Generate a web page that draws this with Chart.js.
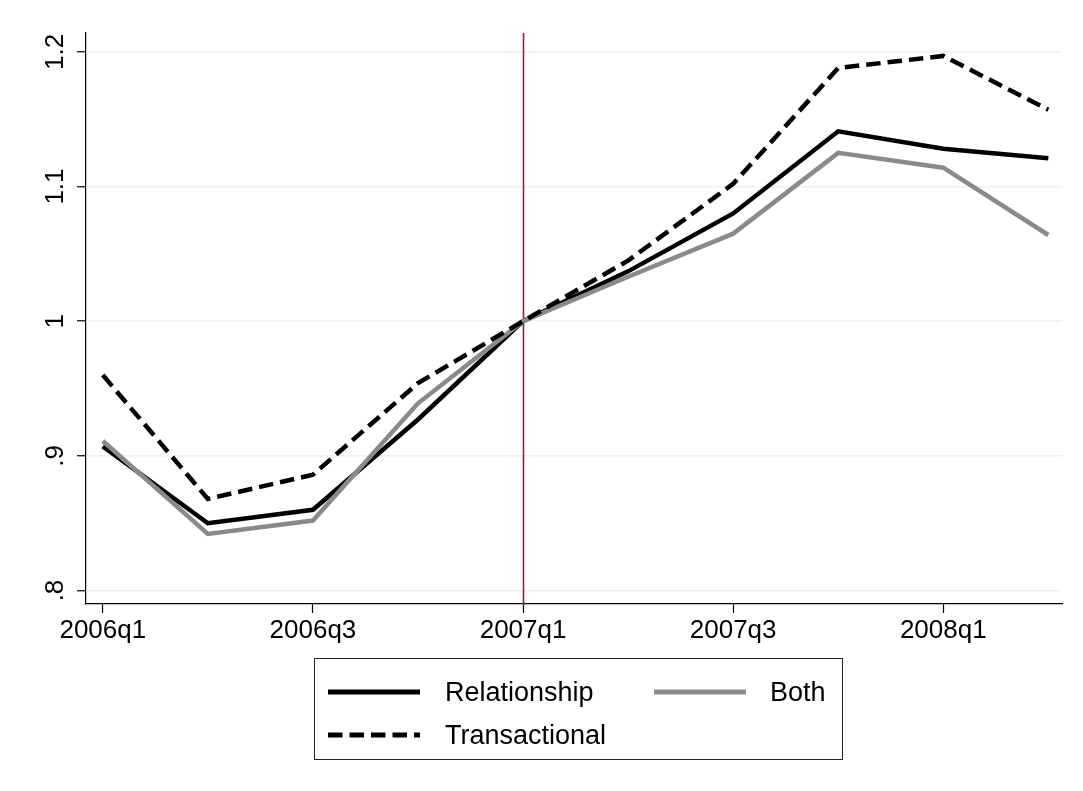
<!DOCTYPE html>
<html>
<head>
<meta charset="utf-8">
<script src="https://cdn.jsdelivr.net/npm/chart.js@4/dist/chart.umd.min.js"></script>
<style>
  html, body { margin: 0; padding: 0; background: #fff; }
  #wrap { position: relative; width: 1083px; height: 791px; }
  #chart { position: absolute; left: 0; top: 0; }
  #legend {
    position: absolute; left: 314px; top: 658px; width: 527px; height: 100px;
    border: 1px solid #222; box-sizing: content-box;
    font-family: "Liberation Sans", Arial, sans-serif; font-size: 27px; color: #000;
  }
  .item { position: absolute; height: 30px; line-height: 30px; white-space: nowrap; }
  .item svg { position: absolute; left: 0; top: 0; }
  .item span { position: absolute; top: 0; }
</style>
</head>
<body>
<div id="wrap">
  <canvas id="chart" width="1083" height="791"></canvas>
  <div id="legend"></div>
</div>
<script>
// Quarterly index, 2007q1 = 1
const quarters = ['2006q1', '2006q2', '2006q3', '2006q4', '2007q1',
                  '2007q2', '2007q3', '2007q4', '2008q1', '2008q2'];
const relationship  = [0.907, 0.850, 0.860, 0.927, 1.000, 1.037, 1.080, 1.141, 1.128, 1.121];
const both          = [0.911, 0.842, 0.852, 0.939, 1.000, 1.033, 1.065, 1.125, 1.114, 1.064];
const transactional = [0.960, 0.868, 0.886, 0.954, 1.000, 1.045, 1.102, 1.188, 1.197, 1.157];

const xTickQuarters = ['2006q1', '2006q3', '2007q1', '2007q3', '2008q1'];
const yTickValues = [0.8, 0.9, 1.0, 1.1, 1.2];
const yTickLabels = ['.8', '.9', '1', '1.1', '1.2'];
const referenceQuarter = '2007q1';

const FONT = '"Liberation Sans", Arial, sans-serif';

const toPoints = arr => arr.map((v, i) => ({ x: i, y: v }));

const series = [
  { label: 'Relationship',  data: relationship,  color: '#000000', dash: [],        order: 2 },
  { label: 'Both',          data: both,          color: '#8a8a8a', dash: [],        order: 1 },
  { label: 'Transactional', data: transactional, color: '#000000', dash: [14.5, 7], order: 0 }
];

// vertical reference line at the base quarter, drawn under the series
const refLine = {
  id: 'refLine',
  beforeDatasetsDraw(chart) {
    const { ctx, chartArea, scales } = chart;
    const x = Math.round(scales.x.getPixelForValue(quarters.indexOf(referenceQuarter))) + 0.5;
    ctx.save();
    ctx.strokeStyle = '#a8123f';
    ctx.lineWidth = 1.6;
    ctx.beginPath();
    ctx.moveTo(x, chartArea.top);
    ctx.lineTo(x, chartArea.bottom);
    ctx.stroke();
    ctx.restore();
  }
};

new Chart(document.getElementById('chart'), {
  type: 'line',
  data: {
    datasets: series.map(s => ({
      label: s.label,
      data: toPoints(s.data),
      borderColor: s.color,
      backgroundColor: s.color,
      borderWidth: 4.5,
      borderDash: s.dash,
      borderCapStyle: 'butt',
      borderJoinStyle: 'miter',
      pointRadius: 0,
      tension: 0,
      order: s.order
    }))
  },
  options: {
    responsive: false,
    animation: false,
    events: [],
    layout: { padding: { left: 0, right: 21, top: 33, bottom: 0 } },
    plugins: { legend: { display: false }, tooltip: { enabled: false } },
    scales: {
      x: {
        type: 'linear',
        min: -0.16,
        max: 9.13,
        afterBuildTicks: axis => {
          axis.ticks = xTickQuarters.map(q => ({ value: quarters.indexOf(q) }));
        },
        afterFit: axis => { axis.height = 187; },
        ticks: {
          callback: v => quarters[v],
          font: { family: FONT, size: 26 },
          color: '#000',
          padding: 2,
          maxRotation: 0,
          minRotation: 0,
          autoSkip: false
        },
        grid: {
          drawOnChartArea: false,
          drawTicks: true,
          tickLength: 9,
          tickColor: '#000',
          tickWidth: 1.2
        },
        border: { display: true, color: '#000', width: 1.2 }
      },
      y: {
        type: 'linear',
        min: 0.79,
        max: 1.214,
        afterBuildTicks: axis => {
          axis.ticks = yTickValues.map(v => ({ value: v }));
        },
        afterFit: axis => { axis.width = 86; },
        ticks: {
          callback: (v, i) => yTickLabels[i],
          font: { family: FONT, size: 26 },
          color: '#000',
          padding: 3,
          minRotation: 90,
          maxRotation: 90,
          crossAlign: 'center'
        },
        grid: {
          color: '#eaf2f3',
          lineWidth: 1.5,
          drawTicks: true,
          tickLength: 9,
          tickColor: '#000',
          tickWidth: 1.2
        },
        border: { display: true, color: '#000', width: 1.2 }
      }
    }
  },
  plugins: [refLine]
});

// legend box: two columns, entries fill row by row
const legend = document.getElementById('legend');
const slots = [
  { left: 13,  top: 18 },
  { left: 339, top: 18 },
  { left: 13,  top: 61 }
];
const legendOrder = ['Relationship', 'Both', 'Transactional'];
legendOrder.forEach((name, i) => {
  const s = series.find(d => d.label === name);
  const slot = slots[i];
  const el = document.createElement('div');
  el.className = 'item';
  el.style.left = slot.left + 'px';
  el.style.top = slot.top + 'px';
  el.style.width = (i === 1 ? 180 : 300) + 'px';
  const dash = s.dash.length ? `stroke-dasharray="${s.dash.join(' ')}"` : '';
  el.innerHTML =
    `<svg width="92" height="30"><line x1="0" y1="15" x2="92" y2="15" stroke="${s.color}" stroke-width="5" ${dash}/></svg>` +
    `<span style="left:${i === 1 ? 116 : 117}px">${s.label}</span>`;
  legend.appendChild(el);
});
</script>
</body>
</html>
